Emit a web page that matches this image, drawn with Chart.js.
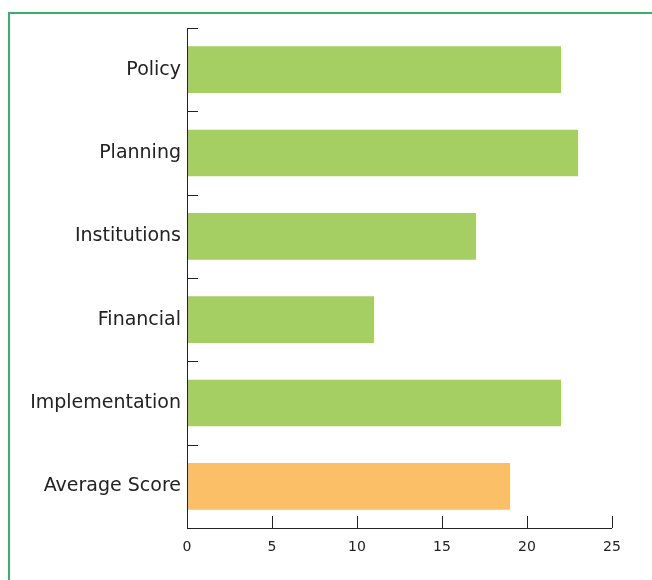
<!DOCTYPE html>
<html><head><meta charset="utf-8">
<script src="https://cdn.jsdelivr.net/npm/chart.js@4"></script>
<style>
html,body{margin:0;padding:0;background:#fff;}
#wrap{position:relative;width:652px;height:580px;}
#frame{position:absolute;left:8px;top:12px;right:-5px;bottom:-5px;border-left:2px solid #3AAE6C;border-top:2px solid #3AAE6C;}
canvas{position:absolute;left:0;top:0;}
</style></head>
<body><div id="wrap"><div id="frame"></div><canvas id="c" width="652" height="580"></canvas></div>
<script>
const categories = ["Policy","Planning","Institutions","Financial","Implementation","Average Score"];
const scores = [22,23,17,11,22,19];
const barColors = ["#A6CF63","#A6CF63","#A6CF63","#A6CF63","#A6CF63","#FBBF68"];
const xTicks = [0,5,10,15,20,25];

const innerTicks = {
  id:'innerTicks',
  afterDraw(chart){
    const {ctx, scales:{x,y}, chartArea:a} = chart;
    ctx.save();
    ctx.strokeStyle='#222'; ctx.lineWidth=1;
    ctx.beginPath();
    ctx.moveTo(a.left+0.5,a.top); ctx.lineTo(a.left+0.5,a.bottom+0.5); ctx.lineTo(a.right,a.bottom+0.5);
    xTicks.forEach(v=>{const px=Math.round(x.getPixelForValue(v))+0.5; ctx.moveTo(px,a.bottom); ctx.lineTo(px,a.bottom-12);});
    for(let i=0;i<=categories.length;i++){
      const py = (i<categories.length? y.getPixelForValue(i)-(y.getPixelForValue(1)-y.getPixelForValue(0))/2 : a.bottom);
      const p=Math.round(py)+0.5;
      ctx.moveTo(a.left,p); ctx.lineTo(a.left+11,p);
    }
    ctx.stroke();
    ctx.restore();
  }
};

new Chart(document.getElementById('c'),{
  type:'bar',
  data:{labels:categories,datasets:[{data:scores,backgroundColor:barColors,borderWidth:0,barPercentage:0.56,categoryPercentage:1}]},
  options:{
    indexAxis:'y',responsive:false,animation:false,
    layout:{padding:{top:28,right:40,left:0,bottom:0}},
    plugins:{legend:{display:false},tooltip:{enabled:false}},
    scales:{
      x:{min:0,max:25,afterBuildTicks:s=>{s.ticks=xTicks.map(v=>({value:v}));},
         grid:{display:false,drawTicks:false},border:{display:false},
         ticks:{color:'#222',padding:11,font:{family:'DejaVu Sans',size:14}},
         afterFit:s=>{s.height=52;}},
      y:{grid:{display:false,drawTicks:false},border:{display:false},
         ticks:{color:'#222',padding:6,font:{family:'DejaVu Sans',size:19}},
         afterFit:s=>{s.width=187;}}
    }
  },
  plugins:[innerTicks]
});
</script></body></html>
